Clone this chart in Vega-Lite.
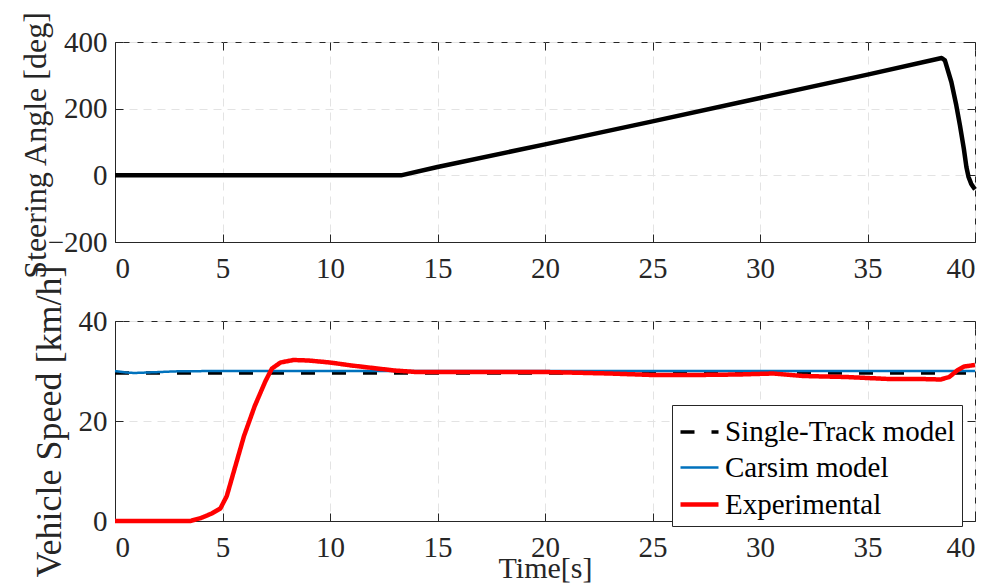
{
  "$schema": "https://vega.github.io/schema/vega-lite/v6.json",
  "background": "white",
  "padding": {"left": 18, "top": 10, "right": 5, "bottom": 0},
  "spacing": 79,
  "bounds": "flush",
  "config": {
    "view": {"stroke": "#262626", "strokeWidth": 1},
    "font": "Liberation Serif",
    "axis": {
      "labelFont": "Liberation Serif",
      "labelFontSize": 29,
      "labelColor": "#262626",
      "titleFont": "Liberation Serif",
      "titleFontSize": 30,
      "titleFontWeight": "normal",
      "titleColor": "#262626",
      "domainColor": "#262626",
      "tickColor": "#262626",
      "tickSize": -8,
      "gridColor": "#e3e3e3",
      "gridDash": [8, 6],
      "gridWidth": 1
    },
    "legend": {
      "labelFont": "Liberation Serif",
      "labelFontSize": 29,
      "labelColor": "#000000",
      "orient": "none",
      "legendX": 557,
      "legendY": 363,
      "fillColor": "white",
      "strokeColor": "#262626",
      "padding": 6,
      "symbolType": "stroke",
      "symbolSize": 1444,
      "labelOffset": 4,
      "rowPadding": -5,
      "labelLimit": 400
    }
  },
  "datasets": {
    "steer": [
      {"t": 0, "v": 0}, {"t": 5, "v": 0}, {"t": 10, "v": 0}, {"t": 13.3, "v": 0},
      {"t": 15, "v": 25}, {"t": 20, "v": 93}, {"t": 25, "v": 162}, {"t": 30, "v": 232},
      {"t": 35, "v": 302}, {"t": 38.45, "v": 352}, {"t": 38.6, "v": 345}, {"t": 38.9, "v": 280},
      {"t": 39.13, "v": 210}, {"t": 39.3, "v": 150}, {"t": 39.48, "v": 80}, {"t": 39.6, "v": 25},
      {"t": 39.7, "v": -5}, {"t": 39.82, "v": -25}, {"t": 39.92, "v": -35}, {"t": 40, "v": -42}
    ],
    "speed": [
      {"t": 0, "v": 29.6, "series": "Single-Track model"},
      {"t": 40, "v": 29.6, "series": "Single-Track model"},
      {"t": 0, "v": 30.0, "series": "Carsim model"},
      {"t": 0.5, "v": 29.7, "series": "Carsim model"},
      {"t": 0.9, "v": 29.6, "series": "Carsim model"},
      {"t": 1.5, "v": 29.7, "series": "Carsim model"},
      {"t": 3, "v": 29.95, "series": "Carsim model"},
      {"t": 5, "v": 30.0, "series": "Carsim model"},
      {"t": 20, "v": 30.0, "series": "Carsim model"},
      {"t": 40, "v": 30.0, "series": "Carsim model"},
      {"t": 0, "v": 0, "series": "Experimental"},
      {"t": 2, "v": 0, "series": "Experimental"},
      {"t": 3.5, "v": 0, "series": "Experimental"},
      {"t": 4, "v": 0.6, "series": "Experimental"},
      {"t": 4.5, "v": 1.5, "series": "Experimental"},
      {"t": 4.9, "v": 2.5, "series": "Experimental"},
      {"t": 5.2, "v": 5, "series": "Experimental"},
      {"t": 5.6, "v": 11, "series": "Experimental"},
      {"t": 6.0, "v": 17, "series": "Experimental"},
      {"t": 6.5, "v": 23, "series": "Experimental"},
      {"t": 7.0, "v": 28, "series": "Experimental"},
      {"t": 7.3, "v": 30.5, "series": "Experimental"},
      {"t": 7.7, "v": 31.7, "series": "Experimental"},
      {"t": 8.3, "v": 32.2, "series": "Experimental"},
      {"t": 9, "v": 32.1, "series": "Experimental"},
      {"t": 10, "v": 31.7, "series": "Experimental"},
      {"t": 11, "v": 31.1, "series": "Experimental"},
      {"t": 12, "v": 30.6, "series": "Experimental"},
      {"t": 13, "v": 30.1, "series": "Experimental"},
      {"t": 14, "v": 29.8, "series": "Experimental"},
      {"t": 17, "v": 29.8, "series": "Experimental"},
      {"t": 20, "v": 29.8, "series": "Experimental"},
      {"t": 23, "v": 29.5, "series": "Experimental"},
      {"t": 25, "v": 29.2, "series": "Experimental"},
      {"t": 27, "v": 29.2, "series": "Experimental"},
      {"t": 29, "v": 29.3, "series": "Experimental"},
      {"t": 30.6, "v": 29.5, "series": "Experimental"},
      {"t": 32, "v": 29.0, "series": "Experimental"},
      {"t": 34, "v": 28.8, "series": "Experimental"},
      {"t": 36, "v": 28.4, "series": "Experimental"},
      {"t": 37.5, "v": 28.4, "series": "Experimental"},
      {"t": 38.4, "v": 28.3, "series": "Experimental"},
      {"t": 38.8, "v": 28.8, "series": "Experimental"},
      {"t": 39.2, "v": 30.2, "series": "Experimental"},
      {"t": 39.5, "v": 30.9, "series": "Experimental"},
      {"t": 40, "v": 31.2, "series": "Experimental"}
    ]
  },
  "vconcat": [
    {
      "width": 860,
      "height": 200,
      "data": {"name": "steer"},
      "layer": [
        {
          "mark": {"type": "line", "color": "black", "strokeWidth": 4.5, "strokeJoin": "round"},
          "encoding": {
            "x": {"field": "t", "type": "quantitative", "scale": {"domain": [0, 40], "nice": false},
                  "axis": {"values": [0, 5, 10, 15, 20, 25, 30, 35, 40], "title": null, "labelPadding": 20, "grid": true}},
            "y": {"field": "v", "type": "quantitative", "scale": {"domain": [-200, 400], "nice": false},
                  "axis": {"values": [-200, 0, 200, 400], "title": "Steering Angle [deg]", "labelPadding": 16, "grid": true,
                           "titleFontSize": 32,
                           "titleX": -70, "titleY": 103, "titleBaseline": "alphabetic"}}
          }
        },
        {
          "mark": {"type": "line", "opacity": 0},
          "encoding": {
            "x": {"field": "t", "type": "quantitative", "scale": {"domain": [0, 40], "nice": false},
                  "axis": {"orient": "top", "values": [0, 5, 10, 15, 20, 25, 30, 35, 40], "labels": false, "title": null, "grid": false, "domain": false}},
            "y": {"field": "v", "type": "quantitative", "scale": {"domain": [-200, 400], "nice": false},
                  "axis": {"orient": "right", "values": [-200, 0, 200, 400], "labels": false, "title": null, "grid": false, "domain": false}}
          }
        }
      ],
      "resolve": {"axis": {"x": "independent", "y": "independent"}}
    },
    {
      "width": 860,
      "height": 200,
      "data": {"name": "speed"},
      "layer": [
        {
          "mark": {"type": "line", "strokeJoin": "round"},
          "encoding": {
            "x": {"field": "t", "type": "quantitative", "scale": {"domain": [0, 40], "nice": false},
                  "axis": {"values": [0, 5, 10, 15, 20, 25, 30, 35, 40], "title": "Time[s]", "labelPadding": 20, "grid": true,
                           "titleY": 56, "titleBaseline": "alphabetic"}},
            "y": {"field": "v", "type": "quantitative", "scale": {"domain": [0, 40], "nice": false},
                  "axis": {"values": [0, 20, 40], "title": "Vehicle Speed [km/h]", "labelPadding": 16, "grid": true,
                           "titleFontSize": 36,
                           "titleX": -55, "titleBaseline": "alphabetic"}},
            "color": {"field": "series", "type": "nominal",
                      "scale": {"domain": ["Single-Track model", "Carsim model", "Experimental"], "range": ["#000000", "#0072BD", "#FF0000"]},
                      "legend": {"title": null}},
            "strokeDash": {"field": "series", "type": "nominal",
                      "scale": {"domain": ["Single-Track model", "Carsim model", "Experimental"], "range": [[14, 17], [1, 0], [1, 0]]},
                      "legend": {"title": null}},
            "strokeWidth": {"field": "series", "type": "nominal",
                      "scale": {"type": "ordinal", "domain": ["Single-Track model", "Carsim model", "Experimental"], "range": [3.5, 2.5, 4.5]},
                      "legend": {"title": null}},
            "order": {"field": "t", "type": "quantitative"}
          }
        },
        {
          "mark": {"type": "line", "opacity": 0},
          "encoding": {
            "x": {"field": "t", "type": "quantitative", "scale": {"domain": [0, 40], "nice": false},
                  "axis": {"orient": "top", "values": [0, 5, 10, 15, 20, 25, 30, 35, 40], "labels": false, "title": null, "grid": false, "domain": false}},
            "y": {"field": "v", "type": "quantitative", "scale": {"domain": [0, 40], "nice": false},
                  "axis": {"orient": "right", "values": [0, 20, 40], "labels": false, "title": null, "grid": false, "domain": false}}
          }
        }
      ],
      "resolve": {"axis": {"x": "independent", "y": "independent"}}
    }
  ]
}
